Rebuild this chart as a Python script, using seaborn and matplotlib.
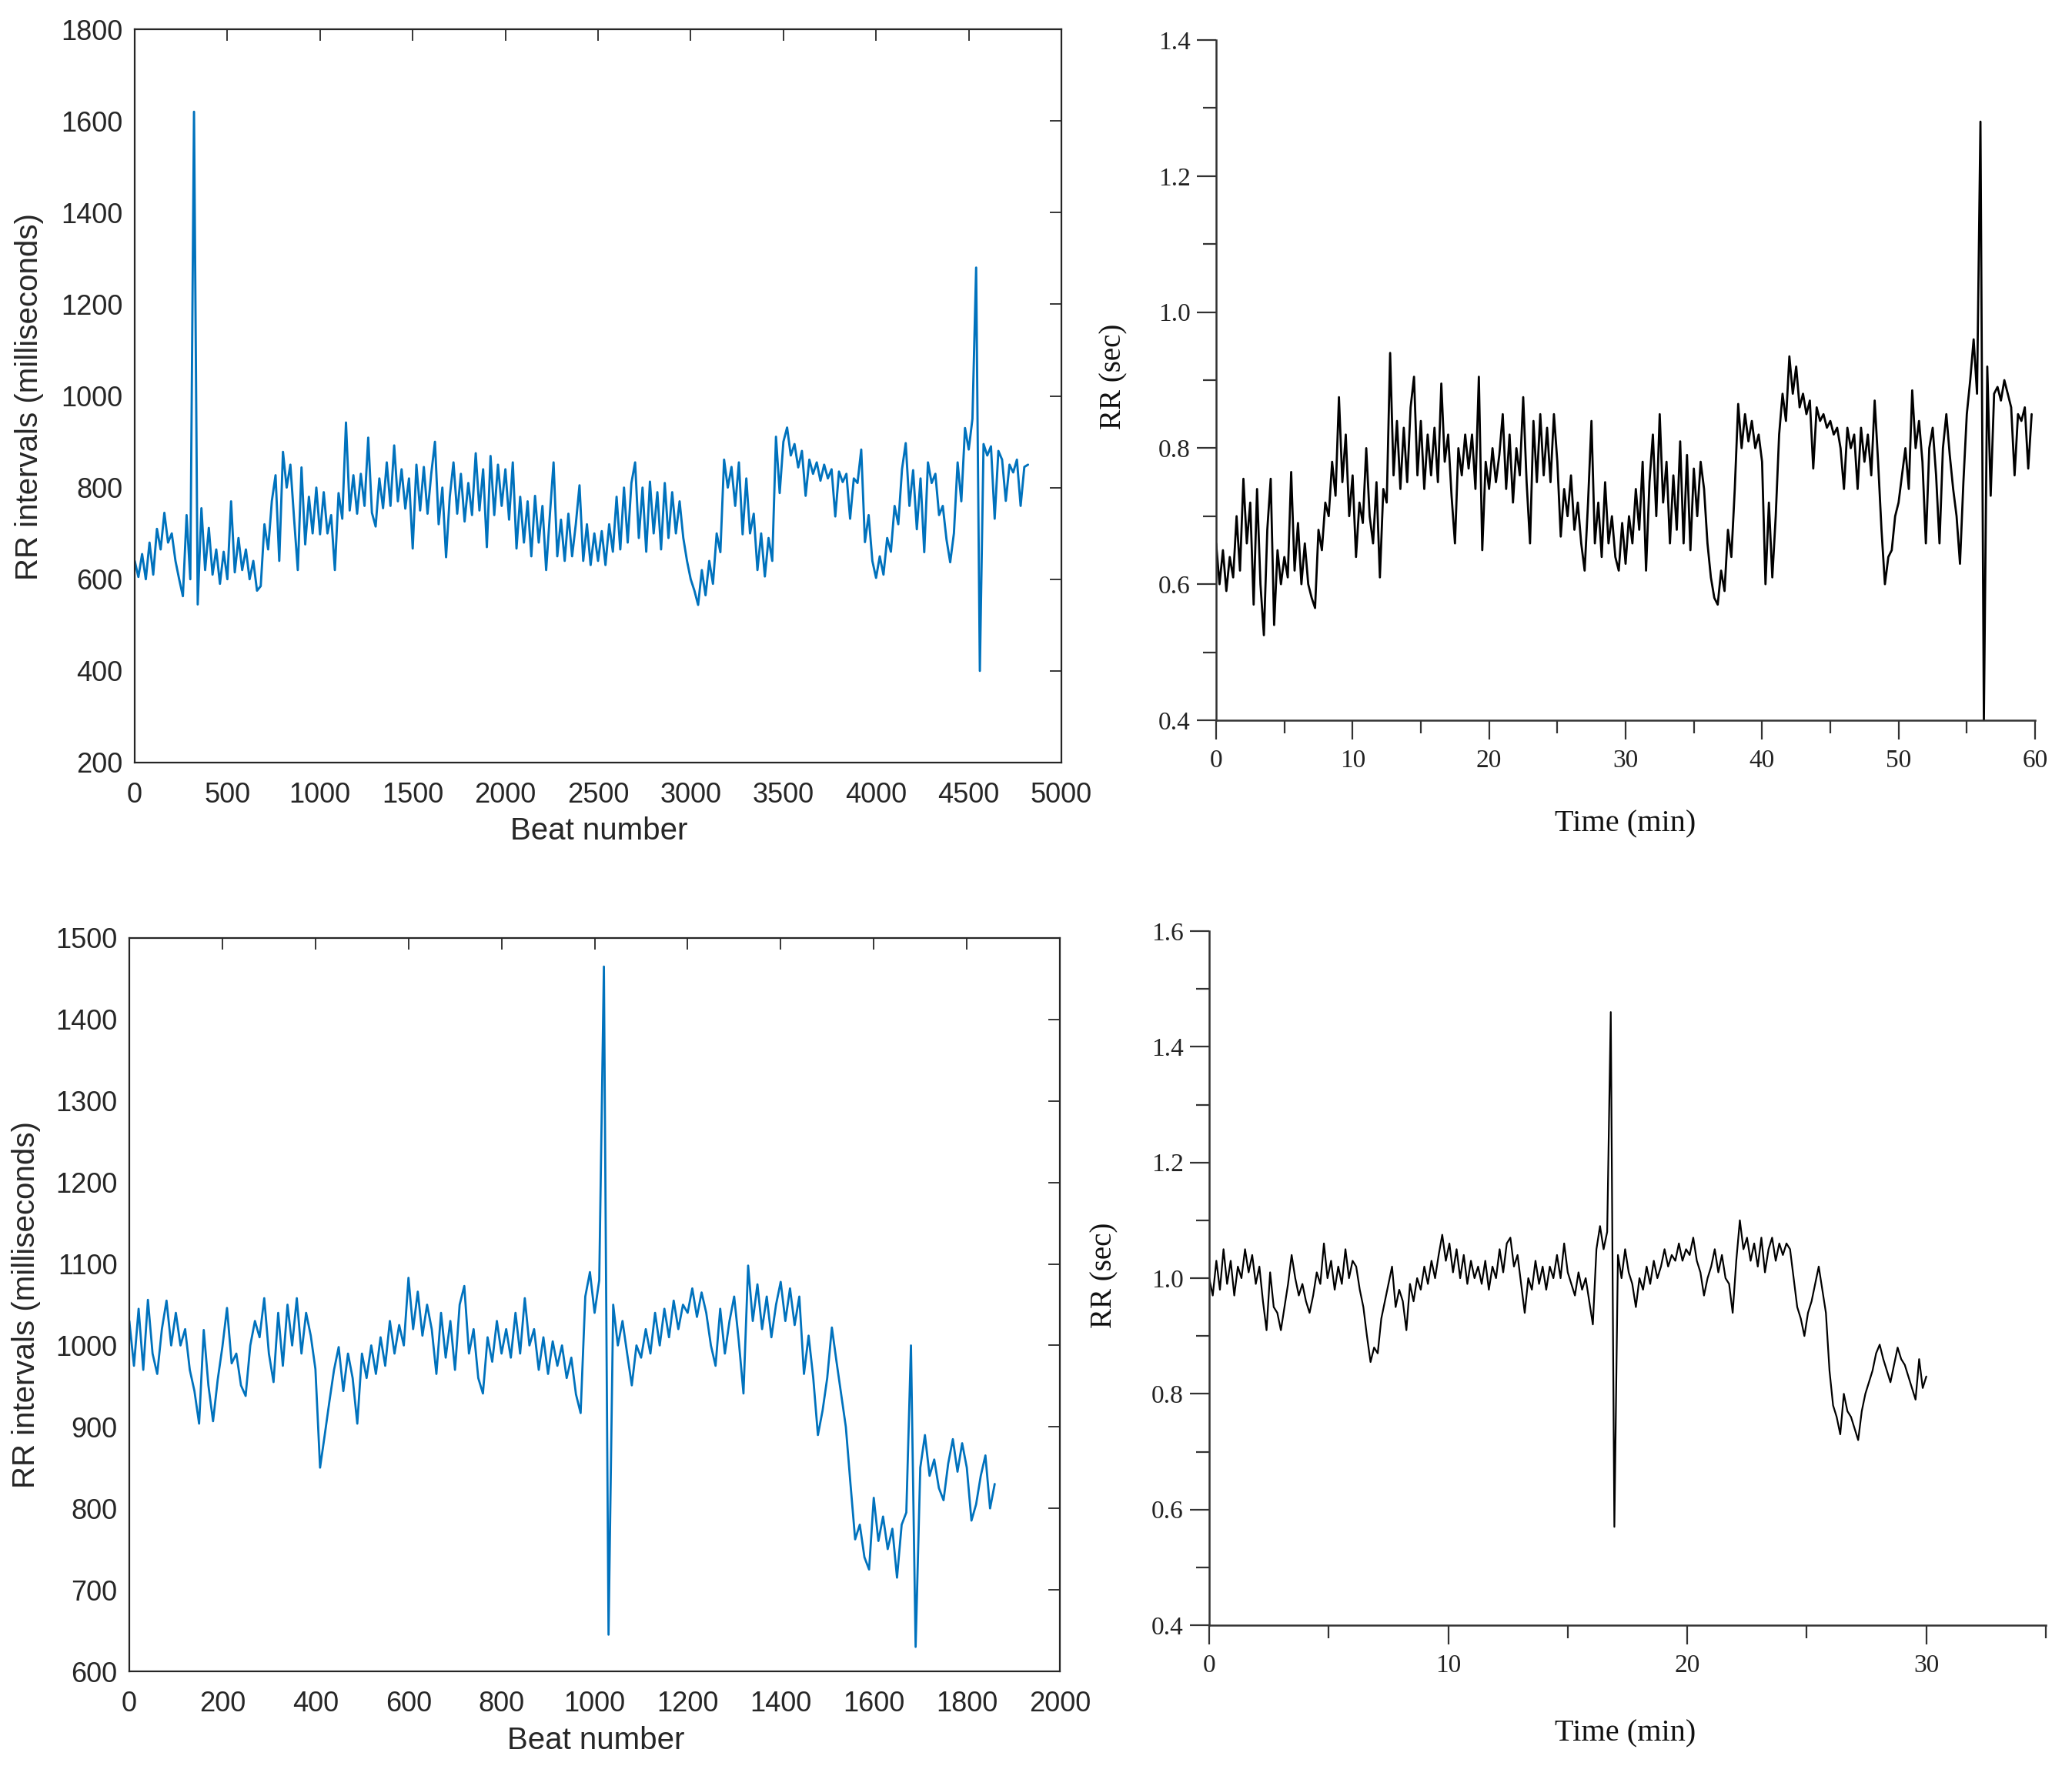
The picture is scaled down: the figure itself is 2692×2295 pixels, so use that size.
import numpy as np
import pandas as pd
import matplotlib
matplotlib.use("Agg")
import matplotlib.pyplot as plt
import seaborn as sns

# ---------------- data ----------------
# Panel A: RR intervals (ms) sampled every 20 beats, beats 0..4820
BEAT_STEP_A = 20
rr_a_ms = [
    640, 605, 655, 600, 680, 610, 710, 665, 745, 680,
    700, 640, 600, 563, 740, 600, 1620, 545, 755, 620,
    712, 610, 665, 590, 660, 600, 770, 615, 690, 620,
    665, 600, 640, 575, 585, 720, 665, 771, 827, 640,
    878, 800, 850, 732, 620, 844, 676, 780, 700, 800,
    698, 790, 700, 740, 620, 788, 732, 942, 750, 827,
    743, 830, 760, 909, 745, 715, 820, 755, 855, 760,
    892, 770, 840, 754, 820, 667, 850, 750, 845, 743,
    830, 900, 720, 800, 648, 780, 855, 743, 830, 726,
    810, 740, 875, 750, 840, 670, 869, 740, 850, 760,
    840, 730, 855, 667, 780, 680, 770, 650, 782, 680,
    760, 620, 740, 855, 650, 730, 640, 743, 650, 720,
    805, 640, 720, 631, 700, 640, 705, 631, 720, 660,
    780, 665, 800, 680, 810, 855, 690, 800, 660, 813,
    700, 790, 665, 810, 690, 790, 700, 770, 690, 640,
    600, 575, 544, 620, 565, 640, 590, 700, 659, 861,
    800, 845, 760, 855, 698, 820, 700, 743, 620, 700,
    606, 690, 640, 911, 788, 900, 931, 870, 895, 844,
    880, 782, 861, 830, 855, 815, 850, 820, 840, 737,
    835, 812, 830, 732, 820, 810, 883, 681, 740, 640,
    603, 650, 610, 690, 660, 760, 720, 840, 897, 760,
    838, 709, 820, 659, 855, 810, 830, 740, 760, 687,
    637, 700, 855, 770, 930, 883, 950, 1280, 400, 895,
    870, 890, 732, 880, 861, 771, 850, 833, 861, 760,
    845, 850,
]

# Panel B: RR (sec) sampled every 0.25 min, 0..59.75 min
TIME_STEP_B = 0.25
rr_b_s = [
    0.66, 0.60, 0.65, 0.59, 0.64, 0.61, 0.70, 0.62,
    0.755, 0.66, 0.72, 0.57, 0.74, 0.60, 0.525, 0.68,
    0.755, 0.54, 0.65, 0.60, 0.64, 0.61, 0.765, 0.62,
    0.69, 0.60, 0.66, 0.60, 0.58, 0.565, 0.68, 0.65,
    0.72, 0.70, 0.78, 0.73, 0.875, 0.75, 0.82, 0.70,
    0.76, 0.64, 0.72, 0.69, 0.80, 0.70, 0.66, 0.75,
    0.61, 0.74, 0.72, 0.94, 0.76, 0.84, 0.74, 0.83,
    0.75, 0.86, 0.905, 0.76, 0.84, 0.74, 0.82, 0.76,
    0.83, 0.75, 0.895, 0.78, 0.82, 0.73, 0.66, 0.80,
    0.76, 0.82, 0.77, 0.82, 0.74, 0.905, 0.65, 0.78,
    0.74, 0.80, 0.75, 0.79, 0.85, 0.74, 0.82, 0.72,
    0.80, 0.76, 0.875, 0.75, 0.66, 0.84, 0.75, 0.85,
    0.76, 0.83, 0.75, 0.85, 0.78, 0.67, 0.74, 0.70,
    0.76, 0.68, 0.72, 0.66, 0.62, 0.72, 0.84, 0.66,
    0.72, 0.64, 0.75, 0.66, 0.70, 0.64, 0.62, 0.69,
    0.63, 0.70, 0.66, 0.74, 0.68, 0.78, 0.62, 0.75,
    0.82, 0.70, 0.85, 0.72, 0.78, 0.66, 0.76, 0.68,
    0.81, 0.66, 0.79, 0.65, 0.77, 0.70, 0.78, 0.74,
    0.66, 0.61, 0.58, 0.57, 0.62, 0.59, 0.68, 0.64,
    0.74, 0.865, 0.80, 0.85, 0.81, 0.84, 0.80, 0.82,
    0.78, 0.60, 0.72, 0.61, 0.70, 0.82, 0.88, 0.84,
    0.935, 0.88, 0.92, 0.86, 0.88, 0.85, 0.87, 0.77,
    0.86, 0.84, 0.85, 0.83, 0.84, 0.82, 0.83, 0.80,
    0.74, 0.83, 0.80, 0.82, 0.74, 0.83, 0.78, 0.82,
    0.76, 0.87, 0.78, 0.68, 0.60, 0.64, 0.65, 0.70,
    0.72, 0.76, 0.80, 0.74, 0.885, 0.80, 0.84, 0.78,
    0.66, 0.80, 0.83, 0.76, 0.66, 0.80, 0.85, 0.79,
    0.74, 0.70, 0.63, 0.75, 0.85, 0.90, 0.96, 0.88,
    1.28, 0.40, 0.92, 0.73, 0.88, 0.89, 0.87, 0.90,
    0.88, 0.86, 0.76, 0.85, 0.84, 0.86, 0.77, 0.85,
]

# Panel C: RR intervals (ms) sampled every 10 beats, beats 0..1860
BEAT_STEP_C = 10
rr_c_ms = [
    1030, 975, 1045, 970, 1056, 990, 965, 1020, 1055, 1000,
    1040, 1000, 1020, 970, 944, 904, 1019, 951, 907, 958,
    998, 1046, 978, 990, 951, 938, 1000, 1030, 1010, 1058,
    990, 955, 1040, 975, 1050, 1000, 1058, 990, 1040, 1012,
    971, 850, 890, 931, 970, 998, 944, 990, 960, 904,
    990, 960, 1000, 965, 1010, 975, 1030, 990, 1025, 1000,
    1083, 1020, 1066, 1012, 1050, 1020, 965, 1040, 985, 1030,
    970, 1050, 1073, 990, 1020, 960, 941, 1010, 980, 1030,
    990, 1020, 985, 1040, 990, 1058, 1000, 1020, 970, 1010,
    965, 1005, 975, 1000, 960, 985, 940, 917, 1060, 1090,
    1040, 1080, 1465, 645, 1050, 1000, 1030, 990, 951, 1000,
    985, 1020, 990, 1040, 1000, 1045, 1010, 1055, 1020, 1050,
    1040, 1070, 1035, 1065, 1040, 1000, 975, 1045, 990, 1030,
    1060, 1005, 941, 1098, 1030, 1075, 1020, 1060, 1010, 1050,
    1078, 1030, 1070, 1025, 1060, 965, 1012, 960, 890, 920,
    960, 1022, 980, 940, 900, 830, 762, 780, 740, 725,
    813, 760, 790, 750, 775, 715, 780, 795, 1000, 630,
    850, 890, 840, 860, 825, 810, 855, 885, 845, 880,
    850, 785, 805, 840, 865, 800, 830,
]

# Panel D: RR (sec) sampled every 0.15 min, 0..30 min
TIME_STEP_D = 0.15
rr_d_s = [
    1.00, 0.97, 1.03, 0.98, 1.05, 0.99, 1.03, 0.97, 1.02, 1.00,
    1.05, 1.01, 1.04, 0.99, 1.02, 0.96, 0.91, 1.01, 0.95, 0.94,
    0.91, 0.95, 0.99, 1.04, 1.00, 0.97, 0.99, 0.96, 0.94, 0.97,
    1.01, 0.99, 1.06, 1.00, 1.03, 0.98, 1.02, 0.99, 1.05, 1.00,
    1.03, 1.02, 0.98, 0.95, 0.90, 0.855, 0.88, 0.87, 0.93, 0.96,
    0.99, 1.02, 0.95, 0.98, 0.96, 0.91, 0.99, 0.96, 1.00, 0.98,
    1.02, 0.99, 1.03, 1.00, 1.04, 1.075, 1.03, 1.06, 1.01, 1.05,
    1.00, 1.04, 0.99, 1.03, 1.00, 1.02, 0.99, 1.03, 0.98, 1.02,
    1.00, 1.05, 1.01, 1.06, 1.07, 1.02, 1.04, 0.99, 0.94, 1.00,
    0.98, 1.03, 0.99, 1.02, 0.98, 1.02, 1.00, 1.04, 1.00, 1.06,
    1.01, 0.99, 0.97, 1.01, 0.98, 1.00, 0.96, 0.92, 1.05, 1.09,
    1.05, 1.08, 1.46, 0.57, 1.04, 1.00, 1.05, 1.01, 0.99, 0.95,
    1.00, 0.98, 1.02, 0.99, 1.03, 1.00, 1.02, 1.05, 1.02, 1.04,
    1.03, 1.06, 1.03, 1.05, 1.04, 1.07, 1.03, 1.01, 0.97, 1.00,
    1.02, 1.05, 1.01, 1.04, 1.00, 0.99, 0.94, 1.03, 1.10, 1.05,
    1.07, 1.03, 1.06, 1.02, 1.07, 1.01, 1.05, 1.07, 1.03, 1.06,
    1.04, 1.06, 1.05, 1.00, 0.95, 0.93, 0.90, 0.94, 0.96, 0.99,
    1.02, 0.98, 0.94, 0.84, 0.78, 0.76, 0.73, 0.80, 0.77, 0.76,
    0.74, 0.72, 0.77, 0.80, 0.82, 0.84, 0.87, 0.885, 0.86, 0.84,
    0.82, 0.85, 0.88, 0.86, 0.85, 0.83, 0.81, 0.79, 0.86, 0.81,
    0.83,
]

# tick values
ticks_a_x = [0, 500, 1000, 1500, 2000, 2500, 3000, 3500, 4000, 4500, 5000]
ticks_a_y = [200, 400, 600, 800, 1000, 1200, 1400, 1600, 1800]
ticks_b_x = [0, 10, 20, 30, 40, 50, 60]
ticks_b_xminor = [5, 15, 25, 35, 45, 55]
ticks_b_y = [0.4, 0.6, 0.8, 1.0, 1.2, 1.4]
ticks_b_yminor = [0.5, 0.7, 0.9, 1.1, 1.3]
ticks_c_x = [0, 200, 400, 600, 800, 1000, 1200, 1400, 1600, 1800, 2000]
ticks_c_y = [600, 700, 800, 900, 1000, 1100, 1200, 1300, 1400, 1500]
ticks_d_x = [0, 10, 20, 30]
ticks_d_xminor = [5, 15, 25, 35]
ticks_d_y = [0.4, 0.6, 0.8, 1.0, 1.2, 1.4, 1.6]
ticks_d_yminor = [0.5, 0.7, 0.9, 1.1, 1.3, 1.5]

df_a = pd.DataFrame({"beat": np.arange(len(rr_a_ms)) * BEAT_STEP_A, "rr": rr_a_ms})
df_b = pd.DataFrame({"t": np.arange(len(rr_b_s)) * TIME_STEP_B, "rr": rr_b_s})
df_c = pd.DataFrame({"beat": np.arange(len(rr_c_ms)) * BEAT_STEP_C, "rr": rr_c_ms})
df_d = pd.DataFrame({"t": np.arange(len(rr_d_s)) * TIME_STEP_D, "rr": rr_d_s})

# ---------------- style ----------------
sns.set_theme(style="white")
plt.rcParams["font.family"] = ["Liberation Sans", "DejaVu Sans"]

SANS = "Liberation Sans"
SERIF = "Liberation Serif"
BLUE = "#0072BD"
MGRAY = "#262626"

W, H = 2692, 2295
fig = plt.figure(figsize=(W / 100, H / 100), dpi=100)
fig.patch.set_facecolor("white")


def px_axes(left, right, top, bottom):
    return fig.add_axes([left / W, 1 - bottom / H, (right - left) / W, (bottom - top) / H])


ax_a = px_axes(175, 1379, 38, 991)
ax_b = px_axes(1580, 2644, 52, 936)
ax_c = px_axes(168, 1377, 1219, 2172)
ax_d = px_axes(1571, 2658, 1210, 2112)

sns.lineplot(data=df_a, x="beat", y="rr", ax=ax_a, color=BLUE, linewidth=2.1,
             estimator=None, sort=False, legend=False)
sns.lineplot(data=df_c, x="beat", y="rr", ax=ax_c, color=BLUE, linewidth=2.0,
             estimator=None, sort=False, legend=False)
sns.lineplot(data=df_b, x="t", y="rr", ax=ax_b, color="black", linewidth=2.0,
             estimator=None, sort=False, legend=False)
sns.lineplot(data=df_d, x="t", y="rr", ax=ax_d, color="black", linewidth=1.6,
             estimator=None, sort=False, legend=False)


def matlab_style(ax, xt, yt, xlim, ylim):
    ax.set_xlim(*xlim)
    ax.set_ylim(*ylim)
    ax.set_xticks(xt, labels=[str(v) for v in xt], fontfamily=SANS, fontsize=26)
    ax.set_yticks(yt, labels=[str(v) for v in yt], fontfamily=SANS, fontsize=26)
    ax.tick_params(axis="both", which="major", direction="in", length=11, width=1.3,
                   color=MGRAY, labelcolor=MGRAY, top=True, right=True)
    ax.tick_params(axis="x", pad=18)
    ax.tick_params(axis="y", pad=11)
    for s in ax.spines.values():
        s.set_visible(True)
        s.set_color(MGRAY)
        s.set_linewidth(1.6)
    ax.set_xlabel("")
    ax.set_ylabel("")
    ax.set_facecolor("white")


def times_style(ax, xt, xtm, yt, ytm, xlim, ylim):
    ax.set_xlim(*xlim)
    ax.set_ylim(*ylim)
    ax.set_xticks(xt, labels=[str(v) for v in xt], fontfamily=SERIF, fontsize=24)
    ax.set_xticks(xtm, minor=True)
    ax.set_yticks(yt, labels=[f"{v:.1f}" for v in yt], fontfamily=SERIF, fontsize=24)
    ax.set_yticks(ytm, minor=True)
    ax.tick_params(axis="both", which="major", direction="out", length=18, width=1.6,
                   color="#333333", labelcolor="#222222", bottom=True, left=True)
    ax.tick_params(axis="both", which="minor", direction="out", length=12, width=1.6,
                   color="#333333", bottom=True, left=True)
    ax.tick_params(axis="x", which="major", pad=9)
    ax.tick_params(axis="y", which="major", pad=6)
    ax.spines["top"].set_visible(False)
    ax.spines["right"].set_visible(False)
    for k in ("left", "bottom"):
        ax.spines[k].set_visible(True)
        ax.spines[k].set_color("#333333")
        ax.spines[k].set_linewidth(1.8)
    ax.set_xlabel("")
    ax.set_ylabel("")
    ax.set_facecolor("white")


matlab_style(ax_a, ticks_a_x, ticks_a_y, (0, 5000), (200, 1800))
matlab_style(ax_c, ticks_c_x, ticks_c_y, (0, 2000), (600, 1500))
times_style(ax_b, ticks_b_x, ticks_b_xminor, ticks_b_y, ticks_b_yminor, (0, 60), (0.4, 1.4))
times_style(ax_d, ticks_d_x, ticks_d_xminor, ticks_d_y, ticks_d_yminor, (0, 35), (0.4, 1.6))

# axis titles
def ftext(xp, yp, s, **kw):
    fig.text(xp / W, 1 - yp / H, s, ha="center", va="center", **kw)

ftext(38, 515, "RR intervals (milliseconds)", rotation=90, fontsize=29, color=MGRAY, fontfamily=SANS)
ftext(778, 1080, "Beat number", fontsize=29, color=MGRAY, fontfamily=SANS)
ftext(34, 1696, "RR intervals (milliseconds)", rotation=90, fontsize=29, color=MGRAY, fontfamily=SANS)
ftext(774, 2262, "Beat number", fontsize=29, color=MGRAY, fontfamily=SANS)

ftext(1447, 489, "RR (sec)", rotation=90, fontsize=28, color="#111111", fontfamily=SERIF)
ftext(2112, 1071, "Time (min)", fontsize=29, color="#111111", fontfamily=SERIF)
ftext(1435, 1657, "RR (sec)", rotation=90, fontsize=28, color="#111111", fontfamily=SERIF)
ftext(2112, 2253, "Time (min)", fontsize=29, color="#111111", fontfamily=SERIF)

fig.savefig("out.png", dpi=100, facecolor="white")
